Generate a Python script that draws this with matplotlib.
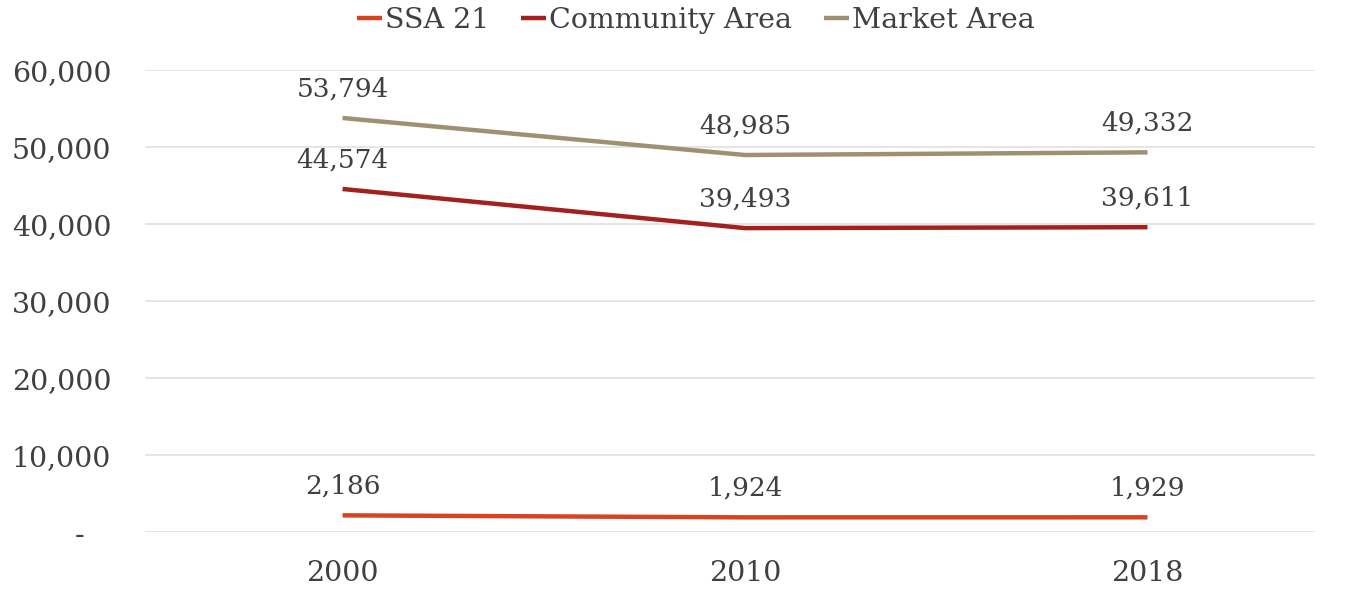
import matplotlib.pyplot as plt
from matplotlib.ticker import FuncFormatter

years = ['2000', '2010', '2018']
ssa21 = [2186, 1924, 1929]
community_area = [44574, 39493, 39611]
market_area = [53794, 48985, 49332]

series = [
    ('SSA 21', ssa21, '#D8431F'),
    ('Community Area', community_area, '#A3201F'),
    ('Market Area', market_area, '#9E9172'),
]

TEXT = '#404040'
plt.rcParams['font.family'] = ['DejaVu Serif']

fig = plt.figure(figsize=(13.51, 5.9), dpi=100)
ax = fig.add_axes([0.107, 0.098, 0.866, 0.783])

x = list(range(len(years)))
for name, vals, color in series:
    ax.plot(x, vals, color=color, linewidth=3.2, label=name, solid_capstyle='butt')
    for xi, v in zip(x, vals):
        ax.annotate(f'{v:,}', (xi, v), xytext=(0, 12), textcoords='offset points',
                    ha='center', va='bottom', fontsize=19, color=TEXT)

ax.set_xlim(-0.492, 2.415)
ax.set_ylim(0, 60000)
ax.set_yticks(range(0, 60001, 10000))
ax.yaxis.set_major_formatter(FuncFormatter(lambda v, p: '-   ' if v == 0 else f'{int(v):,}'))
ax.set_xticks(x)
ax.set_xticklabels(years)
ax.grid(axis='y', color='#E3E3E3', linewidth=1.3)
ax.set_axisbelow(True)
for s in ax.spines.values():
    s.set_visible(False)
ax.tick_params(length=0, labelsize=20.5, colors=TEXT)
ax.tick_params(axis='x', pad=20)
ax.tick_params(axis='y', pad=24)

leg = fig.legend(loc='center', bbox_to_anchor=(0.515, 0.965), ncol=3, frameon=False,
                 handlelength=0.9, handletextpad=0.1, columnspacing=1.1,
                 prop={'size': 20.5})
for t in leg.get_texts():
    t.set_color(TEXT)

fig.savefig('out.png', dpi=100, facecolor='white')
